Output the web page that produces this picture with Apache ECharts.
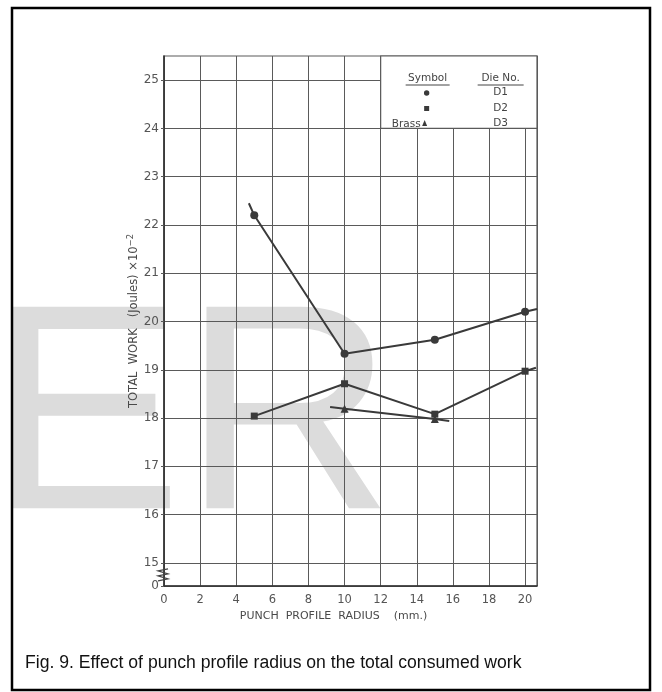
<!DOCTYPE html>
<html>
<head>
<meta charset="utf-8">
<script src="https://cdn.jsdelivr.net/npm/echarts@6/dist/echarts.min.js"></script>
<style>
  html, body { margin: 0; padding: 0; background: #fff; }
  #chart { width: 662px; height: 692px; }
</style>
</head>
<body>
<div id="chart"></div>
<script>
// Punch profile radius (mm) at which the work was measured
const radius = [5, 10, 15, 20];
// Total work (Joules x 10^-2) per die
const workD1 = [22.2, 19.33, 19.62, 20.2];
const workD2 = [18.04, 18.71, 18.08, 18.97];
const radiusD3 = [10, 15];
const workD3 = [18.19, 17.98];
// Where each drawn curve starts and stops beyond the measured points
const startD1 = [4.7, 22.45];
const endD1 = [20.66, 20.26];
const endD2 = [20.6, 19.04];
const startD3 = [9.2, 18.23];
const endD3 = [15.8, 17.94];

const xTicks = [0, 2, 4, 6, 8, 10, 12, 14, 16, 18, 20];
const yTicks = [14.52, 15, 16, 17, 18, 19, 20, 21, 22, 23, 24, 25];

const X_MAX = 20.66, Y_MIN = 14.52, Y_MAX = 25.5;
const INK = '#3a3a3a';
const GRID_INK = '#5a5a5a';
const LABEL_FONT = "'DejaVu Sans', sans-serif";

function curve(xs, ys, start, end) {
  const pts = xs.map((x, i) => [x, ys[i]]);
  const out = [];
  if (start) out.push({ value: start, symbol: 'none' });
  pts.forEach(p => out.push({ value: p }));
  if (end) out.push({ value: end, symbol: 'none' });
  return out;
}

const chart = echarts.init(document.getElementById('chart'), null, { renderer: 'canvas' });

const lineCommon = {
  type: 'line',
  z: 5,
  lineStyle: { color: INK, width: 2 },
  itemStyle: { color: INK },
  emphasis: { disabled: true },
  animation: false
};

chart.setOption({
  animation: false,
  backgroundColor: 'transparent',
  grid: {
    left: 164, right: 125, top: 56, bottom: 106,
    show: true, borderColor: GRID_INK, borderWidth: 1.2, backgroundColor: 'transparent'
  },
  xAxis: {
    type: 'value', min: 0, max: X_MAX, interval: 2,
    name: 'PUNCH  PROFILE  RADIUS    (mm.)',
    nameLocation: 'middle', nameGap: 22,
    nameTextStyle: { fontFamily: LABEL_FONT, fontSize: 11, color: '#4a4a4a', padding: [0, 34, 0, 0] },
    axisLine: { lineStyle: { color: '#333', width: 1.6 } },
    axisTick: { show: false },
    axisLabel: { fontFamily: LABEL_FONT, fontSize: 11.5, color: '#555', margin: 8, showMaxLabel: false,
      formatter: v => xTicks.includes(v) ? String(v) : '' },
    splitLine: { show: true, lineStyle: { color: GRID_INK, width: 1 } }
  },
  yAxis: {
    type: 'value', min: Y_MIN, max: Y_MAX,
    name: '{t|TOTAL  WORK   (Joules) ×10}{s|−2}',
    nameLocation: 'middle', nameGap: 21, nameMoveOverlap: false,
    nameTextStyle: {
      rich: {
        t: { fontFamily: LABEL_FONT, fontSize: 11.5, color: '#4a4a4a' },
        s: { fontFamily: LABEL_FONT, fontSize: 8.5, color: '#4a4a4a', verticalAlign: 'top', padding: [0, 0, 8, 0] }
      }
    },
    axisLine: { lineStyle: { color: '#333', width: 1.6 } },
    axisTick: { show: true, length: 3, customValues: yTicks, lineStyle: { color: GRID_INK } },
    axisLabel: { fontFamily: LABEL_FONT, fontSize: 12, color: '#555', margin: 5,
      customValues: yTicks, formatter: v => (v < 15 ? '0' : String(v)) },
    splitLine: { show: true, lineStyle: { color: GRID_INK, width: 1 } }
  },
  series: [
    Object.assign({}, lineCommon, { name: 'D1', symbol: 'circle', symbolSize: 8,
      data: curve(radius, workD1, startD1, endD1) }),
    Object.assign({}, lineCommon, { name: 'D2', symbol: 'rect', symbolSize: 7,
      data: curve(radius, workD2, null, endD2) }),
    Object.assign({}, lineCommon, { name: 'D3', symbol: 'triangle', symbolSize: 8,
      data: curve(radiusD3, workD3, startD3, endD3) })
  ]
});

// Key box in the upper-right corner of the plot, plus decorations
const boxTL = chart.convertToPixel({ gridIndex: 0 }, [12, Y_MAX]);
const boxBR = chart.convertToPixel({ gridIndex: 0 }, [X_MAX, 24]);
const bx = boxTL[0], by = boxTL[1], bw = boxBR[0] - boxTL[0], bh = boxBR[1] - boxTL[1];
const symCol = bx + 47, dieCol = bx + 120;
const keyFont = { fontFamily: LABEL_FONT, fontSize: 10.5, fill: '#444' };

const breakBase = chart.convertToPixel({ gridIndex: 0 }, [0, 14.75]);
const ax = breakBase[0], ay = breakBase[1];

chart.setOption({
  graphic: [
    // faint lettering behind the plot
    { type: 'text', z: -10, silent: true, left: -13, top: 281,
      style: { text: 'ER', fontFamily: "'Liberation Sans', Arial, sans-serif", fontSize: 293,
        fill: '#dcdcdc' } },
    // outer frame
    { type: 'rect', z: 50, silent: true,
      shape: { x: 12, y: 8, width: 638, height: 682 },
      style: { fill: 'none', stroke: '#000', lineWidth: 2.5 } },
    // key box
    { type: 'rect', z: 20, silent: true,
      shape: { x: bx, y: by, width: bw, height: bh },
      style: { fill: '#fff', stroke: GRID_INK, lineWidth: 1.2 } },
    { type: 'text', z: 21, x: symCol, y: by + 22, silent: true,
      style: Object.assign({ text: 'Symbol', align: 'center', verticalAlign: 'middle' }, keyFont) },
    { type: 'line', z: 21, silent: true, shape: { x1: symCol - 22, y1: by + 29, x2: symCol + 22, y2: by + 29 },
      style: { stroke: '#444', lineWidth: 1 } },
    { type: 'text', z: 21, x: dieCol, y: by + 22, silent: true,
      style: Object.assign({ text: 'Die No.', align: 'center', verticalAlign: 'middle' }, keyFont) },
    { type: 'line', z: 21, silent: true, shape: { x1: dieCol - 23, y1: by + 29, x2: dieCol + 23, y2: by + 29 },
      style: { stroke: '#444', lineWidth: 1 } },
    { type: 'circle', z: 21, silent: true, shape: { cx: symCol - 1, cy: by + 37, r: 2.7 }, style: { fill: INK } },
    { type: 'rect', z: 21, silent: true, shape: { x: symCol - 3.5, y: by + 50, width: 5, height: 5 }, style: { fill: INK } },
    { type: 'polygon', z: 21, silent: true,
      shape: { points: [[symCol - 3, by + 64], [symCol - 5.5, by + 70], [symCol - 0.5, by + 70]] }, style: { fill: INK } },
    { type: 'text', z: 21, x: symCol - 7, y: by + 68, silent: true,
      style: Object.assign({ text: 'Brass', align: 'right', verticalAlign: 'middle' }, keyFont) },
    { type: 'text', z: 21, x: dieCol, y: by + 36, silent: true,
      style: Object.assign({ text: 'D1', align: 'center', verticalAlign: 'middle' }, keyFont) },
    { type: 'text', z: 21, x: dieCol, y: by + 52, silent: true,
      style: Object.assign({ text: 'D2', align: 'center', verticalAlign: 'middle' }, keyFont) },
    { type: 'text', z: 21, x: dieCol, y: by + 67, silent: true,
      style: Object.assign({ text: 'D3', align: 'center', verticalAlign: 'middle' }, keyFont) },
    // axis break mark
    { type: 'polyline', z: 30, silent: true,
      shape: { points: [[ax + 4, ay - 6], [ax - 6, ay - 4], [ax + 4, ay - 1], [ax - 6, ay + 1], [ax + 4, ay + 4], [ax - 6, ay + 6]] },
      style: { stroke: '#444', lineWidth: 1.2, fill: 'none' } },
    // caption
    { type: 'text', z: 30, x: 25, y: 663, silent: true,
      style: { text: 'Fig. 9. Effect of punch profile radius on the total consumed work',
        fontFamily: "'Liberation Sans', Arial, sans-serif", fontSize: 17.6, fill: '#111', verticalAlign: 'middle' } }
  ]
});
</script>
</body>
</html>
